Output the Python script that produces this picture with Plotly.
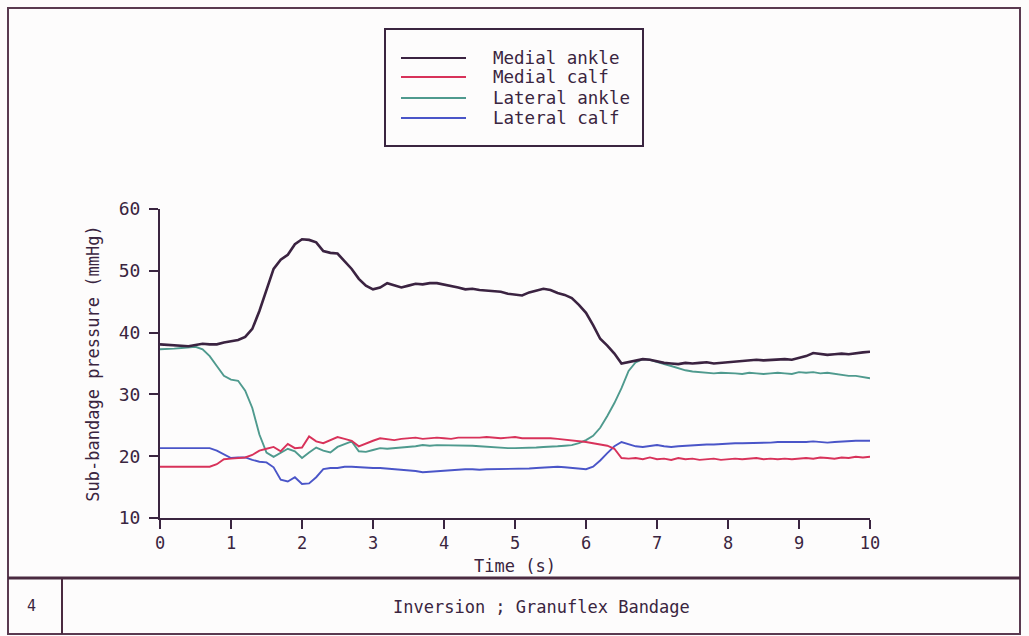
import plotly.graph_objects as go

# Time base (s), one sample every 0.1 s
time_s = [round(i * 0.1, 1) for i in range(101)]

series_names = ["Medial ankle", "Medial calf", "Lateral ankle", "Lateral calf"]
series_colors = ["#3b2341", "#d8325a", "#4f9a8e", "#4a55c8"]
series_widths = [2.6, 1.9, 1.9, 1.9]

# Sub-bandage pressure (mmHg)
medial_ankle = [
    38.1, 38.0, 38.0, 37.9, 37.8, 38.0, 38.2, 38.1, 38.1, 38.4,
    38.6, 38.8, 39.3, 40.6, 43.5, 47.0, 50.3, 51.8, 52.6, 54.3,
    55.1, 55.0, 54.6, 53.2, 52.9, 52.8, 51.6, 50.3, 48.7, 47.6,
    47.0, 47.3, 48.0, 47.6, 47.3, 47.6, 47.9, 47.8, 48.0, 48.0,
    47.8, 47.5, 47.3, 47.0, 47.1, 46.9, 46.8, 46.8, 46.6, 46.3,
    46.1, 46.0, 46.5, 46.8, 47.1, 46.9, 46.4, 46.1, 45.6, 44.5,
    43.2, 41.2, 39.0, 37.9, 36.6, 35.0, 35.2, 35.4, 35.7, 35.6,
    35.3, 35.1, 35.0, 34.9, 35.1, 35.0, 35.1, 35.2, 35.0, 35.1,
    35.2, 35.3, 35.3, 35.5, 35.6, 35.5, 35.6, 35.7, 35.7, 35.6,
    35.9, 36.2, 36.7, 36.5, 36.4, 36.5, 36.6, 36.5, 36.7, 36.8,
    36.9,
]

medial_calf = [
    18.3, 18.3, 18.3, 18.3, 18.3, 18.3, 18.3, 18.3, 18.7, 19.5,
    19.6, 19.7, 19.8, 20.2, 20.9, 21.2, 21.5, 20.8, 22.0, 21.3,
    21.4, 23.2, 22.4, 22.1, 22.6, 23.1, 22.8, 22.5, 21.6, 22.1,
    22.5, 22.9, 22.8, 22.6, 22.8, 22.9, 23.0, 22.8, 22.9, 23.0,
    22.9, 22.8, 23.0, 23.0, 22.9, 23.0, 23.1, 23.0, 22.9, 23.0,
    23.1, 22.9, 22.9, 23.0, 23.0, 22.9, 22.8, 22.7, 22.5, 22.4,
    22.3, 22.1, 21.9, 21.7, 21.2, 19.7, 19.6, 19.7, 19.5, 19.8,
    19.5, 19.6, 19.4, 19.7, 19.5, 19.6, 19.4, 19.5, 19.6, 19.4,
    19.5, 19.6, 19.5, 19.6, 19.7, 19.5, 19.6, 19.5, 19.6, 19.5,
    19.6, 19.7, 19.6, 19.8, 19.7, 19.6, 19.8, 19.7, 19.9, 19.8,
    19.9,
]

lateral_ankle = [
    37.3, 37.3, 37.4, 37.5, 37.6, 37.7, 37.3, 36.2, 34.6, 33.0,
    32.4, 32.2, 30.6, 27.8, 23.5, 20.6, 19.9, 20.5, 21.2, 20.8,
    19.7, 20.6, 21.4, 20.9, 20.6, 21.5, 21.9, 22.4, 20.8, 20.7,
    21.0, 21.3, 21.2, 21.3, 21.3, 21.5, 21.6, 21.8, 21.7, 21.8,
    21.8, 21.7, 21.8, 21.8, 21.7, 21.6, 21.5, 21.5, 21.4, 21.3,
    21.3, 21.3, 21.4, 21.4, 21.5, 21.5, 21.6, 21.7, 21.8, 22.1,
    22.6, 23.3, 24.6, 26.5, 28.6, 31.0, 33.8, 35.2, 35.7, 35.6,
    35.2, 34.9, 34.6, 34.2, 33.9, 33.7, 33.6, 33.5, 33.4, 33.5,
    33.5, 33.4, 33.3, 33.5, 33.4, 33.3, 33.4, 33.5, 33.4, 33.3,
    33.6, 33.5, 33.6, 33.4, 33.5, 33.3, 33.2, 33.0, 33.0, 32.8,
    32.6,
]

lateral_calf = [
    21.3, 21.3, 21.3, 21.3, 21.3, 21.3, 21.3, 21.3, 20.9, 20.3,
    19.7, 19.8, 19.8, 19.4, 19.1, 19.0, 18.2, 16.2, 15.9, 16.6,
    15.5, 15.6, 16.6, 17.9, 18.1, 18.1, 18.3, 18.3, 18.2, 18.1,
    18.1, 18.1, 18.0, 18.0, 17.9, 17.7, 17.6, 17.4, 17.5, 17.6,
    17.7, 17.8, 17.8, 17.9, 17.9, 17.8, 17.9, 17.9, 17.9, 17.9,
    18.0, 17.9, 18.0, 18.1, 18.2, 18.3, 18.3, 18.2, 18.1, 18.0,
    17.9, 18.3, 19.3, 20.5, 21.6, 22.3, 22.0, 21.6, 21.5, 21.7,
    21.8, 21.6, 21.5, 21.6, 21.7, 21.8, 21.8, 21.9, 21.9, 22.0,
    22.0, 22.1, 22.1, 22.1, 22.2, 22.2, 22.2, 22.3, 22.3, 22.2,
    22.3, 22.3, 22.4, 22.3, 22.2, 22.3, 22.4, 22.4, 22.5, 22.5,
    22.5,
]

series_values = [medial_ankle, medial_calf, lateral_ankle, lateral_calf]

x_ticks = list(range(0, 11))
y_ticks = [10, 20, 30, 40, 50, 60]

caption_number = "4"
caption_text = "Inversion ; Granuflex Bandage"

ink = "#3a2540"
font_family = "DejaVu Sans Mono"

W, H = 1029, 636
L, R, T, B = 160, 870, 209, 518  # plot area in pixels


def px(x):
    return (x - L) / (R - L)


def py(y):
    return (B - y) / (B - T)


fig = go.Figure()

# draw back-to-front so the dark ankle trace sits on top
for name, vals, col, w in reversed(list(zip(series_names, series_values, series_colors, series_widths))):
    fig.add_trace(go.Scatter(
        x=time_s, y=vals, mode="lines", name=name,
        line=dict(color=col, width=w), showlegend=False,
    ))

shapes = []
annotations = []

# legend box drawn as a framed key
shapes.append(dict(type="rect", xref="paper", yref="paper",
                   x0=px(385), x1=px(643), y0=py(29), y1=py(146),
                   line=dict(color=ink, width=2), fillcolor="rgba(0,0,0,0)"))
legend_rows = [58, 77, 98, 118]
for name, col, yrow in zip(series_names, series_colors, legend_rows):
    shapes.append(dict(type="line", xref="paper", yref="paper",
                       x0=px(401), x1=px(466), y0=py(yrow), y1=py(yrow),
                       line=dict(color=col, width=2)))
    annotations.append(dict(xref="paper", yref="paper", x=px(491), y=py(yrow),
                            text=name, showarrow=False, xanchor="left", yanchor="middle",
                            font=dict(family=font_family, size=17.5, color=ink)))

# page frame and caption row
shapes.append(dict(type="rect", xref="paper", yref="paper",
                   x0=px(8), x1=px(1020), y0=py(8), y1=py(634),
                   line=dict(color="#5a3a50", width=2), fillcolor="rgba(0,0,0,0)"))
shapes.append(dict(type="line", xref="paper", yref="paper",
                   x0=px(8), x1=px(1020), y0=py(578), y1=py(578),
                   line=dict(color="#4a2a40", width=3)))
shapes.append(dict(type="line", xref="paper", yref="paper",
                   x0=px(62), x1=px(62), y0=py(578), y1=py(634),
                   line=dict(color="#4a2a40", width=2)))
annotations.append(dict(xref="paper", yref="paper", x=px(31), y=py(606),
                        text=caption_number, showarrow=False,
                        xanchor="center", yanchor="middle",
                        font=dict(family=font_family, size=15, color=ink)))
annotations.append(dict(xref="paper", yref="paper", x=px(541), y=py(607),
                        text=caption_text, showarrow=False,
                        xanchor="center", yanchor="middle",
                        font=dict(family=font_family, size=17, color=ink)))

fig.update_layout(
    width=W, height=H,
    margin=dict(l=L, r=W - R, t=T, b=H - B),
    paper_bgcolor="#fdfcfc", plot_bgcolor="#fdfcfc",
    font=dict(family=font_family, size=16, color=ink),
    shapes=shapes, annotations=annotations,
    showlegend=False,
)
fig.update_xaxes(
    range=[0, 10], tickvals=x_ticks, ticks="outside", ticklen=9, tickwidth=2,
    tickcolor=ink, showline=True, linecolor=ink, linewidth=2,
    showgrid=False, zeroline=False,
    tickfont=dict(family=font_family, size=17, color=ink),
    title=dict(text="Time (s)", standoff=8,
               font=dict(family=font_family, size=17, color=ink)),
)
fig.update_yaxes(
    range=[10, 60], tickvals=y_ticks, ticks="outside", ticklen=9, tickwidth=2,
    tickcolor=ink, showline=True, linecolor=ink, linewidth=2,
    showgrid=False, zeroline=False, ticklabelstandoff=5,
    tickfont=dict(family=font_family, size=18, color=ink),
    title=dict(text="Sub-bandage pressure (mmHg)", standoff=15,
               font=dict(family=font_family, size=17, color=ink)),
)

fig.write_html("out.html")
